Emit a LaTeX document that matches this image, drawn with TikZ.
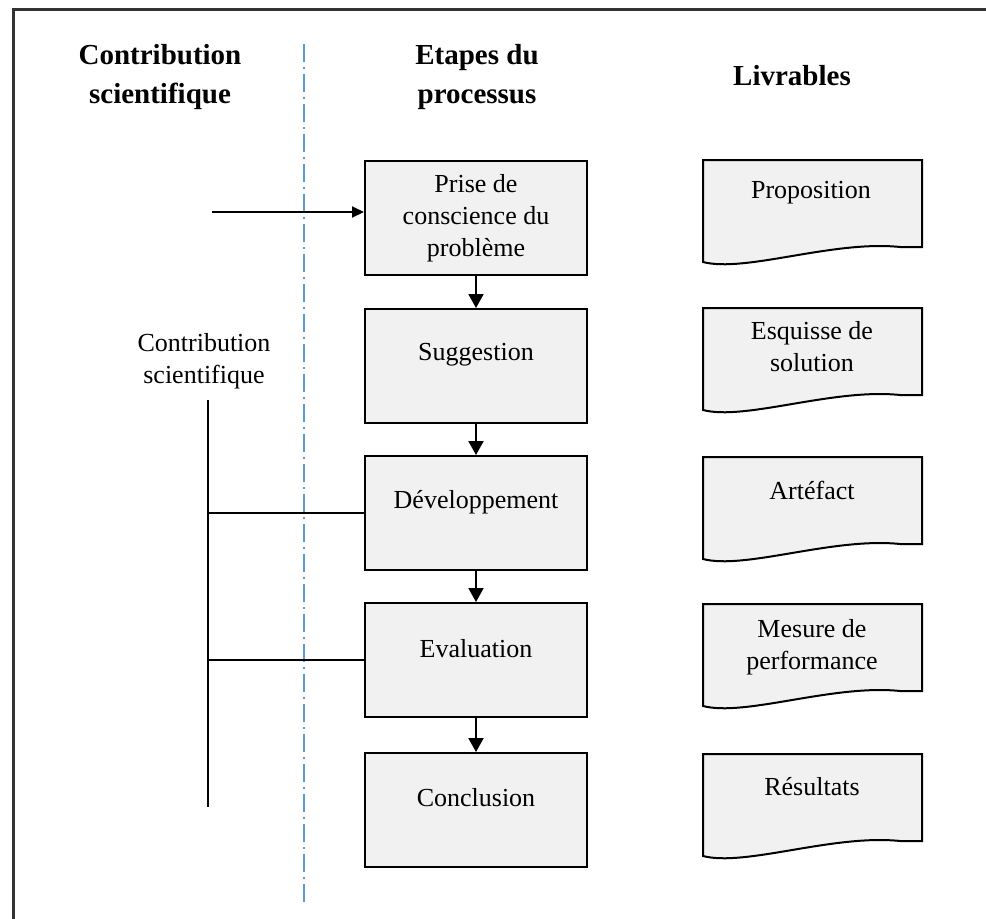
\documentclass[tikz,border=0pt]{standalone}
\usepackage{fontspec}
\setmainfont{Liberation Serif}
\usetikzlibrary{arrows.meta}

\definecolor{boxfill}{HTML}{F1F1F1}
\definecolor{sepblue}{HTML}{5B9BD5}
\definecolor{framegray}{HTML}{333333}

\tikzset{
  stepbox/.style={draw=black, line width=2pt, fill=boxfill,
    minimum width=222pt, minimum height=114pt, inner sep=0pt},
  label/.style={font=\fontsize{26}{32}\selectfont, align=center, inner sep=0pt},
  heading/.style={font=\fontsize{29}{39}\selectfont\bfseries, align=center, inner sep=0pt},
  flow/.style={line width=2pt, -{Triangle[width=15pt,length=14pt]}},
  link/.style={line width=2pt},
  doc/.style={draw=black, line width=2pt, fill=boxfill},
  pics/livrable/.style={code={
    \path[doc] (0,0) -- (219,0) -- (219,87) -- (197,87)
      .. controls (130,80) and (42,113) .. (0,102) -- cycle;
  }}
}

\begin{document}
\begin{tikzpicture}[x=1pt, y=-1pt]
\useasboundingbox (0,0) rectangle (986,919);

% frame (top and left edges)
\draw[framegray, line width=3pt] (986,9) -- (13,9) -- (13,919);

% column separator
\draw[sepblue, line width=1.6pt, dash pattern=on 18pt off 5pt on 2pt off 5pt]
  (304,44) -- (304,905);

% column headings
\node[heading] (hContrib) at (160,77) {Contribution\\scientifique};
\node[heading] (hEtapes)  at (477,77) {Etapes du\\processus};
\node[heading] (hLivr)    at (792,76) {Livrables};

% process steps
\node[stepbox] (b1) at (476,218) {};
\node[stepbox] (b2) at (476,366) {};
\node[stepbox] (b3) at (476,513) {};
\node[stepbox] (b4) at (476,660) {};
\node[stepbox] (b5) at (476,810) {};

\node[label] (t1) at (476,218) {Prise de\\conscience du\\problème};
\node[label] (t2) at (476,355) {Suggestion};
\node[label] (t3) at (476,502) {Développement};
\node[label] (t4) at (476,649) {Evaluation};
\node[label] (t5) at (476,798) {Conclusion};

\draw[flow] (b1) -- (b2);
\draw[flow] (b2) -- (b3);
\draw[flow] (b3) -- (b4);
\draw[flow] (b4) -- (b5);

% entry arrow into the first step
\coordinate (entry) at (212,212);
\draw[line width=2pt, -{Triangle[width=11pt,length=12pt]}] (entry) -- (entry -| b1.west);

% scientific contribution spine
\node[label] (contrib) at (204,361) {Contribution\\scientifique};
\coordinate (spTop) at (208,400);
\coordinate (spBot) at (208,807);
\draw[link] (spTop) -- (spBot);
\draw[link] (b3.west) -- (b3.west -| spTop);
\draw[link] (b4.west) -- (b4.west -| spTop);

% deliverables
\pic at (703,160) {livrable};
\pic at (703,308) {livrable};
\pic at (703,457) {livrable};
\pic at (703,604) {livrable};
\pic at (703,754) {livrable};

\node[label] (d1) at (811,193) {Proposition};
\node[label] (d2) at (812,347) {Esquisse de\\solution};
\node[label] (d3) at (812,490) {Artéfact};
\node[label] (d4) at (812,647) {Mesure de\\performance};
\node[label] (d5) at (812,787) {Résultats};
\end{tikzpicture}
\end{document}
